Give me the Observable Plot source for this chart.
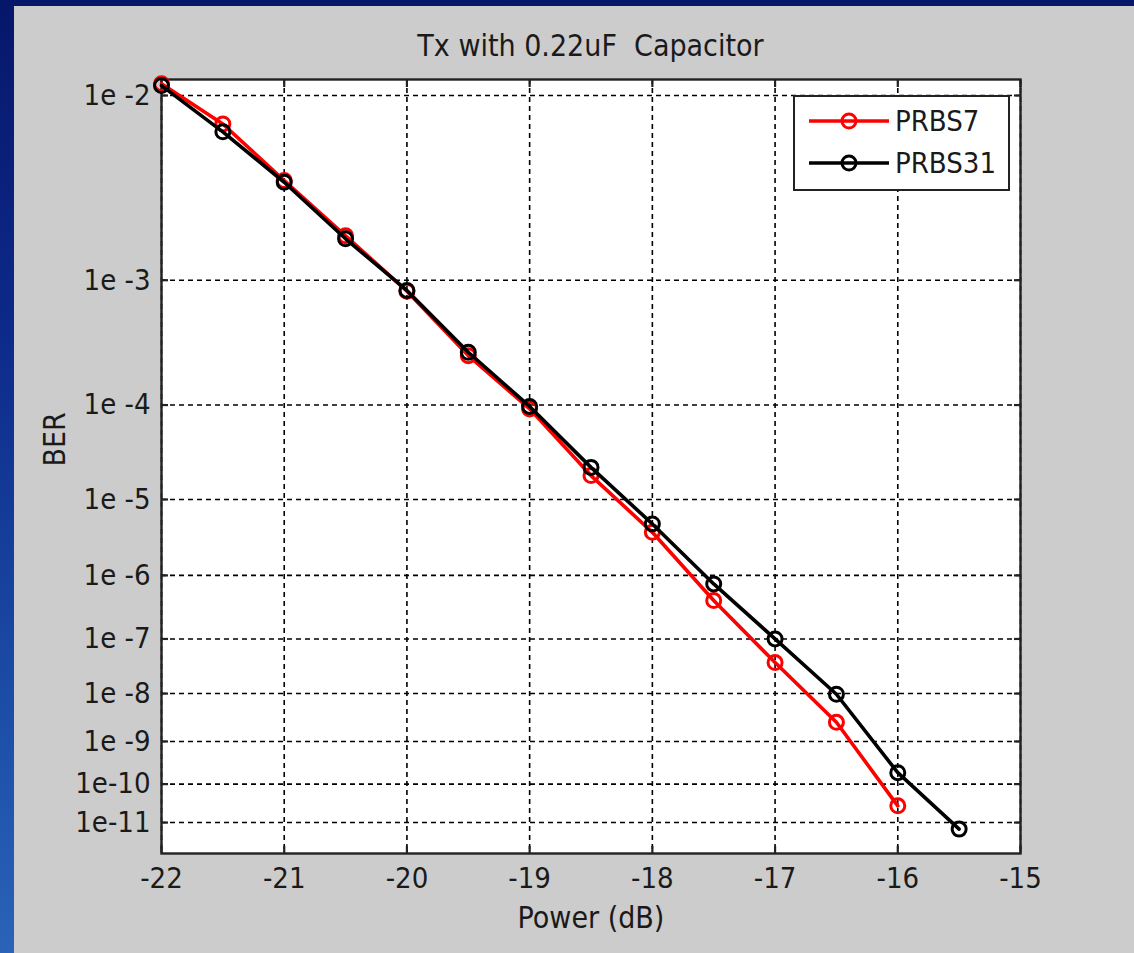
<!DOCTYPE html>
<html>
<head>
<meta charset="utf-8">
<script src="https://cdn.jsdelivr.net/npm/d3@7"></script>
<script src="https://cdn.jsdelivr.net/npm/@observablehq/plot@0.6"></script>
<style>
  html, body { margin: 0; padding: 0; }
  body {
    width: 1134px; height: 953px; overflow: hidden; position: relative;
    background: linear-gradient(to bottom, #06176a 0%, #0d2a8a 35%, #1c4ea8 75%, #2a63b8 100%);
  }
  #panel {
    position: absolute; left: 14px; top: 6px; width: 1120px; height: 947px;
    background: #cccccc;
    font-family: 'Liberation Sans Narrow', 'DejaVu Sans Condensed', 'Liberation Sans', sans-serif;
    color: #1a1a1a;
  }
  #title {
    position: absolute; left: 147px; width: 859px; top: 22px;
    text-align: center; font-size: 30px; line-height: 36px; white-space: pre;
  }
  #chart { position: absolute; left: 0; top: 60px; }
  #legend {
    position: absolute; left: 779px; top: 89px; width: 213px; height: 92px;
    background: #ffffff; border: 2px solid #222;
  }
  .lrow { position: absolute; left: 0; height: 40px; display: flex; align-items: center; }
  .lrow span { font-size: 29px; }
</style>
</head>
<body>
<div id="panel">
  <div id="title">Tx with 0.22uF  Capacitor</div>
  <div id="chart"></div>
  <div id="legend"></div>
</div>
<script>
// ---- data ----
const seriesNames = ["PRBS7", "PRBS31"];
const seriesColors = ["#ff0000", "#000000"];

const powerPRBS7 = [-22, -21.5, -21, -20.5, -20, -19.5, -19, -18.5, -18, -17.5, -17, -16.5, -16];
const berPRBS7 = [1.12e-2, 7.5e-3, 3.96e-3, 1.93e-3, 8.4e-4, 2.72e-4, 9.2e-5, 1.89e-5, 3.9e-6, 4.2e-7, 3.85e-8, 2.6e-9, 2.8e-11];

const powerPRBS31 = [-22, -21.5, -21, -20.5, -20, -19.5, -19, -18.5, -18, -17.5, -17, -16.5, -16, -15.5];
const berPRBS31 = [1.1e-2, 6.9e-3, 3.88e-3, 1.85e-3, 8.5e-4, 2.9e-4, 9.7e-5, 2.33e-5, 5.0e-6, 7.5e-7, 1.0e-7, 9.7e-9, 1.9e-10, 6.6e-12];

const xTicks = [-22, -21, -20, -19, -18, -17, -16, -15];
const xDomain = [-22, -15];
const berTicks = [1e-2, 1e-3, 1e-4, 1e-5, 1e-6, 1e-7, 1e-8, 1e-9, 1e-10, 1e-11];
const berTickLabels = ["1e -2", "1e -3", "1e -4", "1e -5", "1e -6", "1e -7", "1e -8", "1e -9", "1e-10", "1e-11"];
const berLimits = [1.165e-2, 1.32e-12];

const xLabel = "Power (dB)";
const yLabel = "BER";

// ---- BER axis transform: log10(-log10(BER) - 0.35) ----
const f = v => Math.log10(-Math.log10(v) - 0.35);

const rows7 = powerPRBS7.map((p, i) => ({power: p, ber: berPRBS7[i], s: seriesNames[0]}));
const rows31 = powerPRBS31.map((p, i) => ({power: p, ber: berPRBS31[i], s: seriesNames[1]}));

const yTickVals = berTicks.map(f);
const labelOf = new Map(yTickVals.map((v, i) => [v, berTickLabels[i]]));

const ink = "#1a1a1a";
const gridStyle = {stroke: "#000", strokeOpacity: 1, strokeWidth: 1.6, strokeDasharray: "5,4"};

const plot = Plot.plot({
  width: 1120,
  height: 887,
  marginTop: 13,
  marginLeft: 147,
  marginRight: 114,
  marginBottom: 100,
  style: {
    background: "transparent",
    fontFamily: "'Liberation Sans Narrow', 'DejaVu Sans Condensed', 'Liberation Sans', sans-serif",
    fontSize: "29px",
    color: ink
  },
  x: {type: "linear", domain: xDomain},
  y: {type: "linear", domain: [f(berLimits[1]), f(berLimits[0])]},
  marks: [
    Plot.frame({fill: "#ffffff", stroke: "none"}),
    Plot.gridX({ticks: xTicks, ...gridStyle}),
    Plot.gridY({ticks: yTickVals, ...gridStyle}),
    Plot.frame({stroke: "#222", strokeWidth: 2.4}),
    Plot.axisX({ticks: xTicks, anchor: "bottom", tickSize: -7, tickPadding: 21, strokeWidth: 2.2, stroke: "#222", label: null, tickFormat: d => String(d), fill: ink}),
    Plot.axisX({ticks: xTicks, anchor: "top", tickSize: -7, tickPadding: 0, strokeWidth: 2.2, stroke: "#222", label: null, tickFormat: () => ""}),
    Plot.axisY({ticks: yTickVals, anchor: "left", tickSize: -7, tickPadding: 18, strokeWidth: 2.2, stroke: "#222", label: null, tickFormat: d => labelOf.get(d), fill: ink}),
    Plot.axisY({ticks: yTickVals, anchor: "right", tickSize: -7, tickPadding: 0, strokeWidth: 2.2, stroke: "#222", label: null, tickFormat: () => ""}),
    Plot.text([xLabel], {frameAnchor: "bottom", dy: 74, text: d => d, fill: ink, fontSize: 30}),
    Plot.text([yLabel], {frameAnchor: "left", dx: -106, rotate: -90, text: d => d, fill: ink, fontSize: 30}),
    Plot.line(rows7, {x: "power", y: d => f(d.ber), stroke: seriesColors[0], strokeWidth: 3.6}),
    Plot.dot(rows7, {x: "power", y: d => f(d.ber), r: 7, stroke: seriesColors[0], strokeWidth: 3, fill: "none"}),
    Plot.line(rows31, {x: "power", y: d => f(d.ber), stroke: seriesColors[1], strokeWidth: 3.6}),
    Plot.dot(rows31, {x: "power", y: d => f(d.ber), r: 7, stroke: seriesColors[1], strokeWidth: 3, fill: "none"})
  ]
});
document.getElementById("chart").appendChild(plot);

// ---- legend ----
const legend = document.getElementById("legend");
seriesNames.forEach((name, i) => {
  const row = document.createElement("div");
  row.className = "lrow";
  row.style.top = (4 + i * 42) + "px";
  row.innerHTML = `<svg width="96" height="40" style="margin-left:12px">
      <line x1="2" y1="20" x2="82" y2="20" stroke="${seriesColors[i]}" stroke-width="3.6"/>
      <circle cx="42" cy="20" r="7" fill="none" stroke="${seriesColors[i]}" stroke-width="3"/>
    </svg><span>${name}</span>`;
  row.querySelector("span").style.marginLeft = "-8px";
  legend.appendChild(row);
});
</script>
</body>
</html>
